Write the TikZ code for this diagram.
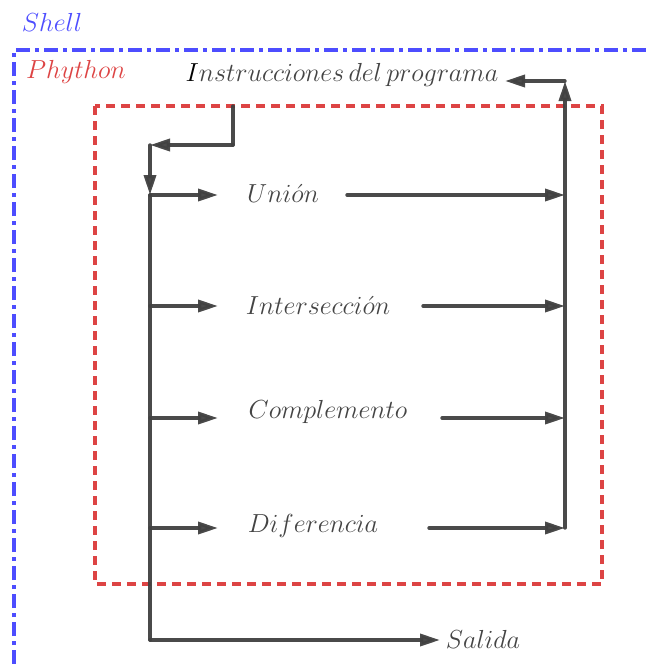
\documentclass[tikz,border=0pt]{standalone}
\usepackage{graphicx}
\usetikzlibrary{arrows.meta}
\definecolor{shellblue}{HTML}{4D4DFF}
\definecolor{pyred}{HTML}{DD4444}
\definecolor{lin}{HTML}{404040}
\definecolor{txt}{HTML}{444444}
\newcommand{\mylab}[1]{\scalebox{1.05}{$#1$}}
\begin{document}
\begin{tikzpicture}[x=1pt,y=-1pt,
  lab/.style={inner sep=0pt,text=txt,font=\fontsize{24.88}{29}\selectfont},
  flow/.style={draw=lin,line width=3.4pt,line cap=round,opacity=0.95},
  arr/.style={flow,-{Triangle[length=20pt,width=12pt]}},
  shellline/.style={draw=shellblue,line width=4pt,dash pattern=on 14pt off 5pt on 4pt off 5pt},
  pyline/.style={draw=pyred,line width=3.5pt,dash pattern=on 9pt off 6pt}]
\useasboundingbox (0,0) rectangle (647,664);
% frames
\draw[shellline] (14,664) -- (14,50) -- (647,50);
\draw[pyline] (95,106) rectangle (602,584);
\node[lab,text=shellblue] (shell) at (52,22) {\mylab{Shell}};
\node[lab,text=pyred] (py) at (76,72) {\mylab{Phython}};
% labels
\node[lab] (instr) at (342,75) {\mylab{\textcolor{black}{I}nstrucciones\,del\,programa}};
\node[lab] (union) at (283,193) {\mylab{Uni\acute{o}n}};
\node[lab] (inter) at (318,305) {\mylab{Intersecci\acute{o}n}};
\node[lab] (comp) at (328,412) {\mylab{Complemento}};
\node[lab] (dif) at (313,526) {\mylab{Diferencia}};
\node[lab] (sal) at (483,639) {\mylab{Salida}};
% coordinates
\coordinate (top) at (233,106);
\coordinate (c1) at (233,145);
\coordinate (c2) at (150,145);
\coordinate (l1) at (150,195);
\coordinate (l2) at (150,306);
\coordinate (l3) at (150,418);
\coordinate (l4) at (150,528);
\coordinate (l5) at (150,640);
\coordinate (a1) at (218,195);
\coordinate (a2) at (218,306);
\coordinate (a3) at (218,418);
\coordinate (a4) at (218,528);
\coordinate (b1) at (347,195);
\coordinate (b2) at (423,306);
\coordinate (b3) at (442,418);
\coordinate (b4) at (429,528);
\coordinate (r1) at (565,195);
\coordinate (r2) at (565,306);
\coordinate (r3) at (565,418);
\coordinate (r4) at (565,528);
\coordinate (rt) at (565,81);
\coordinate (it) at (505,81);
\coordinate (se) at (440,640);
% flow
\draw[flow] (top) -- (c1);
\draw[arr] (c1) -- (c2);
\draw[arr] (c2) -- (l1);
\draw[flow] (l1) -- (l5);
\draw[arr] (l5) -- (se);
\draw[arr] (l1) -- (a1);
\draw[arr] (l2) -- (a2);
\draw[arr] (l3) -- (a3);
\draw[arr] (l4) -- (a4);
\draw[arr] (b1) -- (r1);
\draw[arr] (b2) -- (r2);
\draw[arr] (b3) -- (r3);
\draw[arr] (b4) -- (r4);
\draw[arr] (r4) -- (rt);
\draw[arr] (rt) -- (it);
\end{tikzpicture}
\end{document}
